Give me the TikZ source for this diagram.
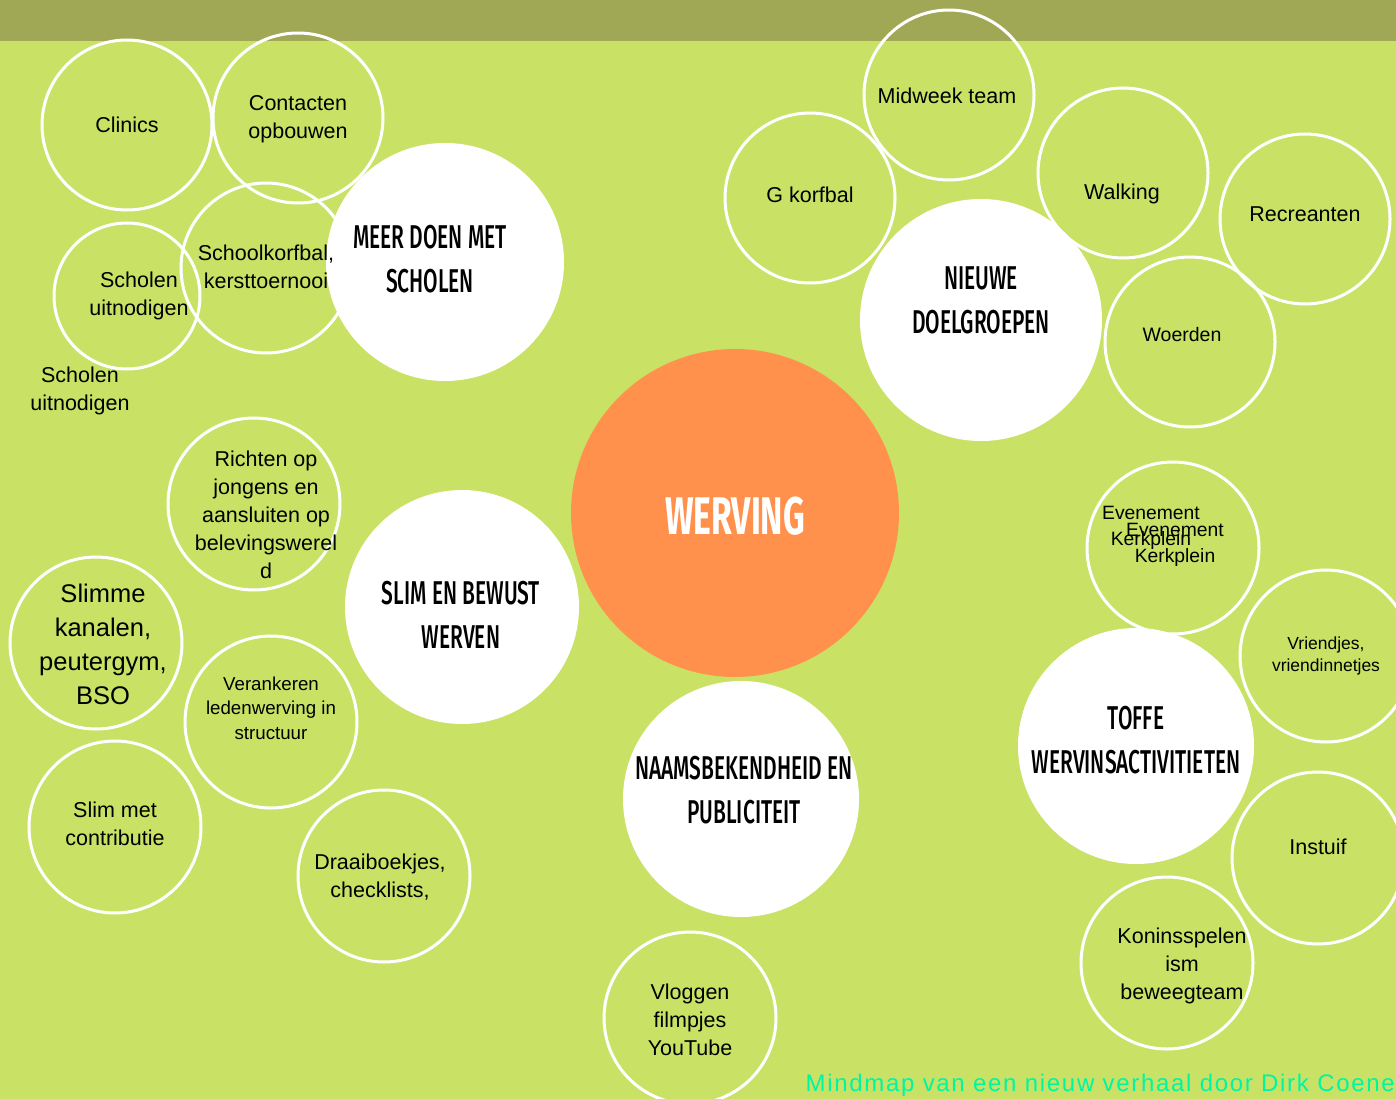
\documentclass[tikz,border=0pt]{standalone}
\usepackage{fontspec}
\setmainfont{Liberation Sans}
\newfontfamily\kopfont[FakeStretch=0.635, UprightFont=* Medium, BoldFont=* Bold]{Fira Sans}
\newfontfamily\voetfont[LetterSpace=7]{Liberation Sans}
\usetikzlibrary{positioning}
\definecolor{balk}{HTML}{A0A856}
\definecolor{veld}{HTML}{C9E265}
\definecolor{oranje}{HTML}{FF914D}
\definecolor{voet}{HTML}{00F5A3}
\tikzset{
  bol/.style = {circle, inner sep=0pt},
  bol_r/.style = {bol, draw=white, line width=3pt},% losse bol, alleen witte rand
  bol_w/.style = {bol, fill=white},% tak, witte bol
  bol_o/.style = {bol, fill=oranje},% midden, oranje bol
  tekst/.style = {align=center, inner sep=0pt,
    font=\fontsize{21.5}{28}\selectfont},
  kop/.style = {align=center, inner sep=0pt,
    font=\kopfont\fontsize{33}{44}\selectfont}% kop in witte bol
}
\begin{document}
\begin{tikzpicture}[x=1pt,y=-1pt]
\useasboundingbox (0,0) rectangle (1396,1099);
\clip (0,0) rectangle (1396,1099);
\fill[veld] (0,0) rectangle (1396,1099);
\fill[balk] (0,0) rectangle (1396,41);
% losse bollen
\node [bol_r, minimum size=170] (clinics) at (127,125) {};
\node [bol_r, minimum size=170] (contacten) at (298,118) {};
\node [bol_r, minimum size=170] (schoolkorfbal) at (266,268) {};
\node [bol_r, minimum size=146] (uitnodigen) at (127,296) {};
\node [bol_r, minimum size=170] (midweek) at (949,95) {};
\node [bol_r, minimum size=170] (gkorfbal) at (810,198) {};
\node [bol_r, minimum size=170] (walking) at (1123,173) {};
\node [bol_r, minimum size=170] (recreanten) at (1305,219) {};
\node [bol_r, minimum size=170] (woerden) at (1190,342) {};
\node [bol_r, minimum size=172] (richten) at (254,504) {};
\node [bol_r, minimum size=172] (kanalen) at (96,643) {};
\node [bol_r, minimum size=172] (verankeren) at (271,722) {};
\node [bol_r, minimum size=172] (contributie) at (115,827) {};
\node [bol_r, minimum size=172] (draaiboek) at (384,876) {};
\node [bol_r, minimum size=172] (vloggen) at (690,1018) {};
\node [bol_r, minimum size=172] (evenement) at (1173,548) {};
\node [bol_r, minimum size=172] (vriendjes) at (1326,656) {};
\node [bol_r, minimum size=172] (instuif) at (1318,858) {};
\node [bol_r, minimum size=172] (koninsspelen) at (1167,963) {};
% takken en midden
\node [bol_w, minimum size=238] (scholen) at (445,262) {};
\node [bol_w, minimum size=242] (doelgroepen) at (981,320) {};
\node [bol_w, minimum size=234] (slim) at (462,607) {};
\node [bol_w, minimum size=236] (publiciteit) at (741,799) {};
\node [bol_w, minimum size=236] (toffe) at (1136,746) {};
\node [bol_o, minimum size=328] (werving) at (735,513) {};
% teksten
\node [tekst] (clinics-t) at (127,125) {Clinics};
\node [tekst] (contacten-t) at (298,119) {Contacten\\opbouwen};
\node [tekst] (schoolkorfbal-t) at (266,267) {Schoolkorfbal,\\kersttoernooi};
\node [tekst] (uitnodigen-t) at (139,296) {Scholen\\uitnodigen};
\node [tekst] (uitnodigen2-t) at (80,391) {Scholen\\uitnodigen};
\node [kop] (scholen-t) at (430,259) {MEER DOEN MET\\SCHOLEN};
\node [tekst] (midweek-t) at (947,96) {Midweek team};
\node [tekst] (gkorfbal-t) at (810,195) {G korfbal};
\node [tekst] (walking-t) at (1122,194) {Walking};
\node [tekst] (recreanten-t) at (1305,214) {Recreanten};
\node [kop] (doelgroepen-t) at (981,300) {NIEUWE\\DOELGROEPEN};
\node [tekst, font=\fontsize{19.5}{26}\selectfont] (woerden-t) at (1182,335) {Woerden};
\node [kop, font=\kopfont\bfseries\fontsize{53}{60}\selectfont, white] (werving-t)
  at (735,516) {WERVING};
\node [tekst] (richten-t) at (266,515)
  {Richten op\\jongens en\\aansluiten op\\belevingswerel\\d};
\node [kop] (slim-t) at (461,615) {SLIM EN BEWUST\\WERVEN};
\node [tekst, font=\fontsize{25.5}{34}\selectfont] (kanalen-t) at (103,644)
  {Slimme\\kanalen,\\peutergym,\\BSO};
\node [tekst, font=\fontsize{18.7}{24.5}\selectfont] (verankeren-t) at (271,708)
  {Verankeren\\ledenwerving in\\structuur};
\node [tekst] (contributie-t) at (115,824) {Slim met\\contributie};
\node [tekst] (draaiboek-t) at (380,877) {Draaiboekjes,\\checklists,};
\node [kop] (publiciteit-t) at (744,790) {NAAMSBEKENDHEID EN\\PUBLICITEIT};
\node [tekst] (vloggen-t) at (690,1020) {Vloggen\\filmpjes\\YouTube};
\node [tekst, font=\fontsize{19.3}{26}\selectfont] (evenement-t) at (1151,528)
  {Evenement\\Kerkplein};
\node [tekst, font=\fontsize{19.3}{26}\selectfont] (evenement2-t) at (1175,545)
  {Evenement\\Kerkplein};
\node [tekst, font=\fontsize{17.5}{22}\selectfont] (vriendjes-t) at (1326,656)
  {Vriendjes,\\vriendinnetjes};
\node [kop] (toffe-t) at (1136,740) {TOFFE\\WERVINSACTIVITIETEN};
\node [tekst] (instuif-t) at (1318,847) {Instuif};
\node [tekst] (koninsspelen-t) at (1182,966) {Koninsspelen\\ism\\beweegteam};
\node [tekst, font=\voetfont\fontsize{24}{28}\selectfont, text=voet, anchor=east]
  (voet-t) at (1395,1085) {Mindmap van een nieuw verhaal door Dirk Coene};
\end{tikzpicture}
\end{document}
